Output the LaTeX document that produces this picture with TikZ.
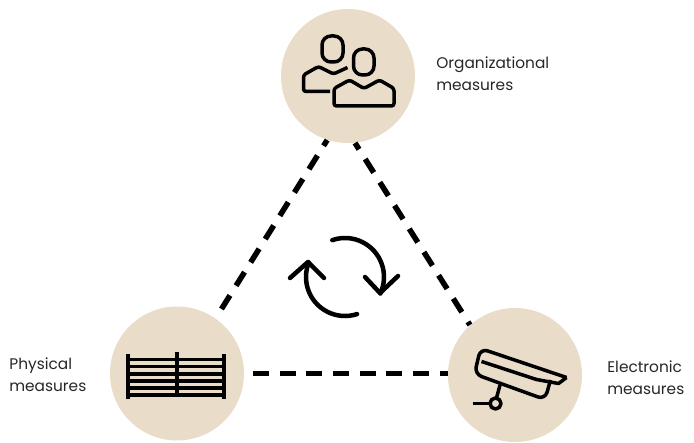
\documentclass[tikz,border=0pt]{standalone}
\usepackage{fontspec}
\setmainfont{Poppins}
\definecolor{sand}{HTML}{E9DCC9}
\tikzset{
	measure/.style={circle, fill=sand, minimum size=2.68cm, inner sep=0pt},
	caption/.style={anchor=west, align=left, inner sep=0pt, font=\fontsize{8.75pt}{12.4pt}\selectfont, text=black!85},
	link/.style={line width=1.1mm, dash pattern=on 0.32cm off 0.213cm},
	slantlink/.style={line width=1.1mm, dash pattern=on 0.32cm off 0.23cm},
	icon/.style={line width=0.7mm, line join=round},
	cycle/.style={line width=0.9mm, line join=round, line cap=round}
}

\begin{document}
\begin{tikzpicture}
	%%%%% START %%%%%
	\useasboundingbox (0, 0) rectangle (13.88, 8.86);

	\node[measure] (org) at (6.96, 7.34) {};
	\node[measure] (phys) at (3.54, 1.39) {};
	\node[measure] (elec) at (10.30, 1.36) {};

	\draw[slantlink, shorten <=0.22cm] (phys.55) -- (org.252);
	\draw[slantlink, dash phase=0.17cm] (org.276) -- (elec.132);
	\draw[link, shorten <=0.174cm] (phys.east) -- (phys.east -| elec.west);

	\node[caption] (orgtext) at (8.72, 7.39) {Organizational\\measures};
	\node[caption] (phystext) at (0.18, 1.36) {Physical\\measures};
	\node[caption] (electext) at (12.14, 1.30) {Electronic\\measures};

	% people
	\draw[icon, rounded corners=0.18cm] (6.44, 7.62) rectangle (6.86, 8.14);
	\draw[icon, rounded corners=0.05cm] (6.95, 7.51) -- (6.67, 7.38) -- (6.37, 7.53) -- (6.07, 7.36) -- (6.07, 7.03) -- (6.60, 7.03);
	\draw[icon, rounded corners=0.18cm] (7.07, 7.36) rectangle (7.48, 7.88);
	\draw[icon, rounded corners=0.05cm] (6.68, 6.74) -- (6.68, 7.09) -- (6.99, 7.26) -- (7.28, 7.09) -- (7.59, 7.26) -- (7.88, 7.09) -- (7.88, 6.74) -- cycle;

	% fence
	\draw[line width=0.8mm] (2.56, 1.78) -- (2.56, 0.87);
	\draw[line width=0.8mm] (3.54, 1.82) -- (3.54, 0.91);
	\draw[line width=0.8mm] (4.47, 1.78) -- (4.47, 0.87);
	\foreach \y in {1.67, 1.53, 1.38, 1.24, 1.10, 0.96} {
		\draw[line width=0.7mm] (2.56, \y) -- (4.47, \y);
	}

	% camera
	\draw[icon, rounded corners=0.15cm] (11.33, 1.31) -- (9.61, 1.89) -- (9.49, 1.38) -- (10.90, 0.87) -- (11.01, 1.26);
	\draw[icon] (9.63, 1.63) -- (10.73, 1.27) -- (11.17, 1.19) -- (11.33, 1.31);
	\draw[icon] (10.00, 1.16) -- (9.93, 0.90);
	\draw[icon] (9.91, 0.79) circle (0.11);
	\draw[icon] (9.45, 0.79) -- (9.80, 0.79);

	% rotation arrows
	\draw[cycle] ([shift={(109:0.78)}]6.90, 3.32) arc (109:-25:0.78);
	\draw[cycle] (7.30, 3.32) -- (7.60, 3.00) -- (7.96, 3.34);
	\draw[cycle] ([shift={(288:0.78)}]6.90, 3.32) arc (288:158:0.78);
	\draw[cycle] (5.80, 3.30) -- (6.16, 3.62) -- (6.48, 3.30);
	%%%%% END %%%%%
\end{tikzpicture}
\end{document}
